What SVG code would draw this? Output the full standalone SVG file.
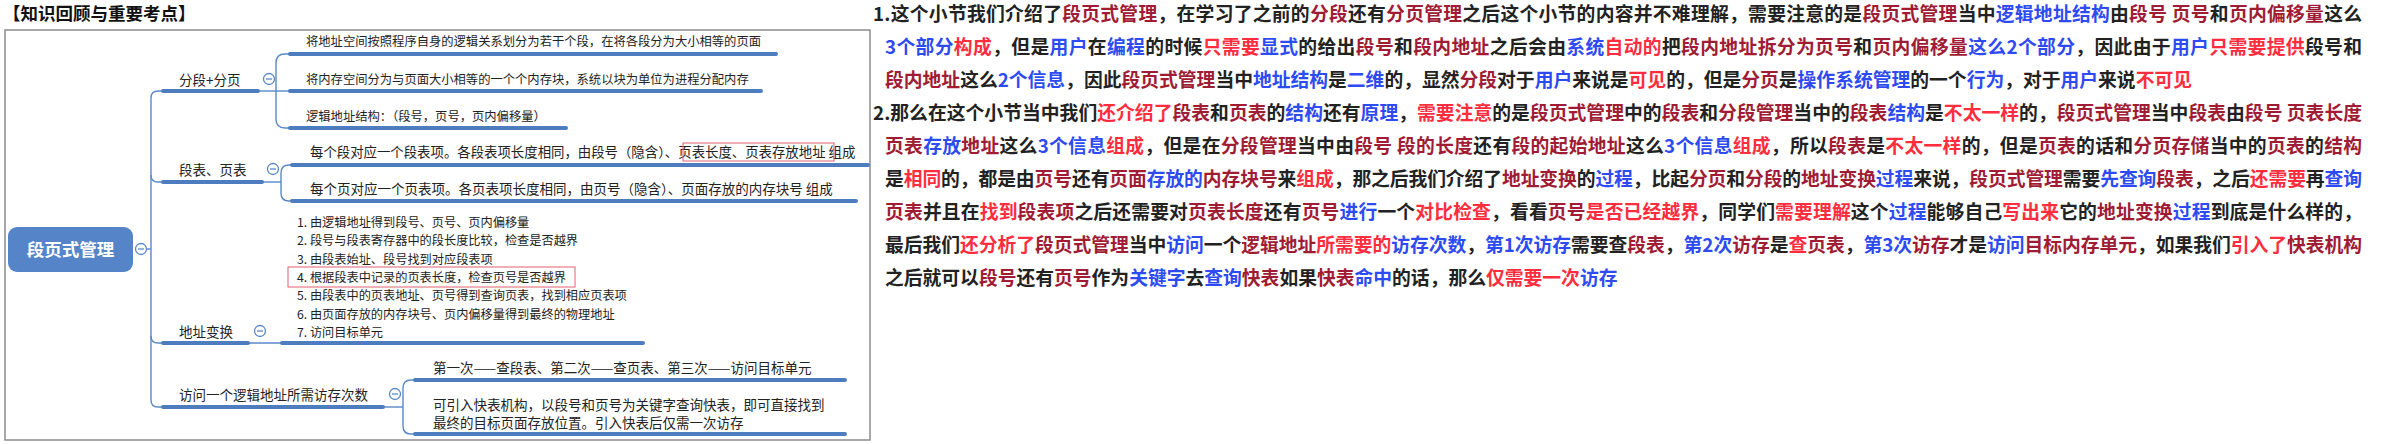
<svg xmlns="http://www.w3.org/2000/svg" width="2386" height="444" viewBox="0 0 2386 444">
<style>
.f{font-family:"Noto Sans CJK SC","Noto Sans",sans-serif}
.title{font-size:17.5px;font-weight:700;fill:#111}
.lbl{font-size:13.5px;fill:#222}
.sm{font-size:12.3px;fill:#222}
.li{font-size:12.2px;fill:#222}
.root{font-size:17.5px;font-weight:700;fill:#fff}
.ul{stroke:#4e7dbf;stroke-width:4;stroke-linecap:round;fill:none}
.cn{stroke:#5a88c8;stroke-width:1.4;fill:none}
.tg circle{fill:#fff;stroke:#5a88c8;stroke-width:1.3}
.tg line{stroke:#5a88c8;stroke-width:1.3}
.hl{fill:none;stroke:#e0606e;stroke-width:1}
.p{font-size:18.8px;font-weight:700;fill:#222}
.d{fill:#a01c35}
.e{fill:#ff2d3d}
.u{fill:#2e4bf2}
</style>
<rect width="2386" height="444" fill="#fff"/>
<g id="title"><text class="f title" x="3" y="20">【知识回顾与重要考点】</text></g>
<rect id="frame" x="5" y="30" width="865" height="410" fill="none" stroke="#8c8c8c" stroke-width="1.5"/>
<g id="connectors">
<path class="cn" d="M146.5 249 H151"/>
<path class="cn" d="M163 91 H158 Q151 91 151 98 V400 Q151 407 158 407 H163"/>
<path class="cn" d="M151 175 Q151 182 158 182 H163"/>
<path class="cn" d="M151 336 Q151 343 158 343 H163"/>
<path class="cn" d="M258 91 H290"/>
<path class="cn" d="M290 54 H285 Q276 54 276 63 V119 Q276 128 285 128 H290"/>
<path class="cn" d="M262 182 H281"/>
<path class="cn" d="M292 165 H289 Q281 165 281 173 V193 Q281 201 289 201 H292"/>
<path class="cn" d="M248 343 H282"/>
<path class="cn" d="M383 407 H403"/>
<path class="cn" d="M415 380 H411 Q403 380 403 388 V426 Q403 434 411 434 H415"/>
</g>
<g id="root">
<rect x="8" y="227" width="125" height="45" rx="9" fill="#5585c8"/>
<text class="f root" x="70.5" y="255.5" text-anchor="middle">段页式管理</text>
<g class="tg"><circle cx="141" cy="249" r="5.5"/><line x1="138" y1="249" x2="144" y2="249"/></g>
</g>
<g id="b1">
<text class="f lbl" x="179" y="85">分段+分页</text>
<line class="ul" x1="163" y1="91" x2="258" y2="91"/>
<g class="tg"><circle cx="269" cy="79" r="5.5"/><line x1="266" y1="79" x2="272" y2="79"/></g>
</g>
<g id="b1c1"><text class="f sm" x="306" y="46">将地址空间按照程序自身的逻辑关系划分为若干个段，在将各段分为大小相等的页面</text><line class="ul" x1="290" y1="54" x2="776" y2="54"/></g>
<g id="b1c2"><text class="f sm" x="306" y="84">将内存空间分为与页面大小相等的一个个内存块，系统以块为单位为进程分配内存</text><line class="ul" x1="290" y1="91" x2="761" y2="91"/></g>
<g id="b1c3"><text class="f sm" x="306" y="121">逻辑地址结构：（段号，页号，页内偏移量）</text><line class="ul" x1="290" y1="128" x2="566" y2="128"/></g>
<g id="b2">
<text class="f lbl" x="179" y="175">段表、页表</text>
<line class="ul" x1="163" y1="182" x2="262" y2="182"/>
<g class="tg"><circle cx="273" cy="169" r="5.5"/><line x1="270" y1="169" x2="276" y2="169"/></g>
</g>
<g id="b2c1"><text class="f" style="font-size:13.4px;fill:#222" x="310" y="157">每个段对应一个段表项。各段表项长度相同，由段号（隐含）、页表长度、页表存放地址 组成</text><rect class="hl" x="683" y="143" width="151" height="18"/><line class="ul" x1="292" y1="165" x2="868" y2="165"/></g>
<g id="b2c2"><text class="f lbl" x="310" y="194">每个页对应一个页表项。各页表项长度相同，由页号（隐含）、页面存放的内存块号 组成</text><line class="ul" x1="292" y1="201" x2="856" y2="201"/></g>
<g id="b3">
<text class="f lbl" x="179" y="337">地址变换</text>
<line class="ul" x1="163" y1="343" x2="248" y2="343"/>
<g class="tg"><circle cx="260" cy="331" r="5.5"/><line x1="257" y1="331" x2="263" y2="331"/></g>
</g>
<g id="b3c1">
<rect class="hl" x="288" y="267" width="287" height="20"/>
<text class="f li" x="297" y="227">1. 由逻辑地址得到段号、页号、页内偏移量</text>
<text class="f li" x="297" y="245">2. 段号与段表寄存器中的段长度比较，检查是否越界</text>
<text class="f li" x="297" y="264">3. 由段表始址、段号找到对应段表项</text>
<text class="f li" x="297" y="282">4. 根据段表中记录的页表长度，检查页号是否越界</text>
<text class="f li" x="297" y="300">5. 由段表中的页表地址、页号得到查询页表，找到相应页表项</text>
<text class="f li" x="297" y="319">6. 由页面存放的内存块号、页内偏移量得到最终的物理地址</text>
<text class="f li" x="297" y="337">7. 访问目标单元</text>
<line class="ul" x1="282" y1="343" x2="643" y2="343"/>
</g>
<g id="b4">
<text class="f lbl" x="179" y="400">访问一个逻辑地址所需访存次数</text>
<line class="ul" x1="163" y1="407" x2="383" y2="407"/>
<g class="tg"><circle cx="395" cy="394" r="5.5"/><line x1="392" y1="394" x2="398" y2="394"/></g>
</g>
<g id="b4c1"><text class="f lbl" x="433" y="373">第一次——查段表、第二次——查页表、第三次——访问目标单元</text><line class="ul" x1="415" y1="380" x2="845" y2="380"/></g>
<g id="b4c2"><text class="f lbl" x="433" y="410">可引入快表机构，以段号和页号为关键字查询快表，即可直接找到</text><text class="f lbl" x="433" y="428">最终的目标页面存放位置。引入快表后仅需一次访存</text><line class="ul" x1="415" y1="434" x2="845" y2="434"/></g>
<g id="notes" class="f p">
<text x="873" y="21" textLength="1489" lengthAdjust="spacing">1.这个小节我们介绍了<tspan class="d">段页式管理</tspan>，在学习了之前的<tspan class="d">分段</tspan>还有<tspan class="d">分页管理</tspan>之后这个小节的内容并不难理解，需要注意的是<tspan class="d">段页式管理</tspan>当中<tspan class="u">逻辑地址结构</tspan>由<tspan class="d">段号 页号</tspan>和<tspan class="d">页内偏移量</tspan>这么</text>
<text x="885" y="54" textLength="1477" lengthAdjust="spacing"><tspan class="u">3个部分</tspan><tspan class="e">构成</tspan>，但是<tspan class="u">用户</tspan>在<tspan class="u">编程</tspan>的时候<tspan class="e">只需要</tspan><tspan class="u">显式</tspan>的给出<tspan class="d">段号</tspan>和<tspan class="d">段内地址</tspan>之后会由<tspan class="u">系统</tspan><tspan class="e">自动的</tspan>把<tspan class="d">段内地址拆分为页号</tspan>和<tspan class="d">页内偏移量</tspan><tspan class="u">这么2个部分</tspan>，因此由于<tspan class="u">用户</tspan><tspan class="e">只需要提供</tspan>段号和</text>
<text x="885" y="87"><tspan class="d">段内地址</tspan>这么<tspan class="u">2个信息</tspan>，因此<tspan class="d">段页式管理</tspan>当中<tspan class="u">地址结构</tspan>是<tspan class="u">二维</tspan>的，显然<tspan class="d">分段</tspan>对于<tspan class="u">用户</tspan>来说是<tspan class="e">可见</tspan>的，但是<tspan class="d">分页</tspan>是<tspan class="u">操作系统管理</tspan>的一个<tspan class="u">行为</tspan>，对于<tspan class="u">用户</tspan>来说<tspan class="e">不可见</tspan></text>
<text x="873" y="120" textLength="1489" lengthAdjust="spacing">2.那么在这个小节当中我们<tspan class="e">还介绍了</tspan><tspan class="d">段表</tspan>和<tspan class="d">页表</tspan>的<tspan class="u">结构</tspan>还有<tspan class="u">原理</tspan>，<tspan class="e">需要注意</tspan>的是<tspan class="d">段页式管理</tspan>中的<tspan class="d">段表</tspan>和<tspan class="d">分段管理</tspan>当中的<tspan class="d">段表</tspan><tspan class="u">结构</tspan>是<tspan class="e">不太一样</tspan>的，<tspan class="d">段页式管理</tspan>当中<tspan class="d">段表</tspan>由<tspan class="d">段号 页表长度</tspan></text>
<text x="885" y="153" textLength="1477" lengthAdjust="spacing"><tspan class="d">页表</tspan><tspan class="u">存放</tspan><tspan class="d">地址</tspan>这么<tspan class="u">3个信息</tspan><tspan class="e">组成</tspan>，但是在<tspan class="d">分段管理</tspan>当中由<tspan class="d">段号 段的长度</tspan>还有<tspan class="d">段的起始地址</tspan>这么<tspan class="u">3个信息</tspan><tspan class="e">组成</tspan>，所以<tspan class="d">段表</tspan>是<tspan class="e">不太一样</tspan>的，但是<tspan class="d">页表</tspan>的话和<tspan class="d">分页存储</tspan>当中的<tspan class="d">页表</tspan>的<tspan class="d">结构</tspan></text>
<text x="885" y="186" textLength="1477" lengthAdjust="spacing">是<tspan class="e">相同</tspan>的，都是由<tspan class="d">页号</tspan>还有<tspan class="d">页面</tspan><tspan class="u">存放的</tspan><tspan class="d">内存块号</tspan>来<tspan class="e">组成</tspan>，那之后我们介绍了<tspan class="d">地址变换</tspan>的<tspan class="u">过程</tspan>，比起<tspan class="d">分页</tspan>和<tspan class="d">分段</tspan>的<tspan class="d">地址变换</tspan><tspan class="u">过程</tspan>来说，<tspan class="d">段页式管理</tspan>需要<tspan class="u">先查询</tspan><tspan class="d">段表</tspan>，之后<tspan class="e">还需要</tspan>再<tspan class="u">查询</tspan></text>
<text x="885" y="219" textLength="1477" lengthAdjust="spacing"><tspan class="d">页表</tspan>并且在<tspan class="e">找到</tspan><tspan class="d">段表项</tspan>之后还需要对<tspan class="d">页表长度</tspan>还有<tspan class="d">页号</tspan><tspan class="u">进行</tspan>一个<tspan class="e">对比检查</tspan>，看看<tspan class="d">页号</tspan><tspan class="e">是否已经越界</tspan>，同学们<tspan class="e">需要理解</tspan>这个<tspan class="u">过程</tspan>能够自己<tspan class="e">写出来</tspan>它的<tspan class="d">地址变换</tspan><tspan class="u">过程</tspan>到底是什么样的，</text>
<text x="885" y="252" textLength="1477" lengthAdjust="spacing">最后我们<tspan class="e">还分析了</tspan><tspan class="d">段页式管理</tspan>当中<tspan class="u">访问</tspan>一个<tspan class="d">逻辑地址</tspan><tspan class="e">所需要的</tspan><tspan class="u">访存次数</tspan>，<tspan class="u">第1次访存</tspan>需要查<tspan class="d">段表</tspan>，<tspan class="u">第2次</tspan><tspan class="d">访存</tspan>是<tspan class="e">查</tspan><tspan class="d">页表</tspan>，<tspan class="u">第3次</tspan><tspan class="d">访存</tspan>才是<tspan class="u">访问</tspan><tspan class="d">目标内存单元</tspan>，如果我们<tspan class="e">引入了</tspan><tspan class="d">快表机构</tspan></text>
<text x="885" y="285">之后就可以<tspan class="d">段号</tspan>还有<tspan class="d">页号</tspan>作为<tspan class="u">关键字</tspan>去<tspan class="u">查询</tspan><tspan class="d">快表</tspan>如果<tspan class="d">快表</tspan><tspan class="u">命中</tspan>的话，那么<tspan class="e">仅需要一次</tspan><tspan class="u">访存</tspan></text>
</g>
</svg>
